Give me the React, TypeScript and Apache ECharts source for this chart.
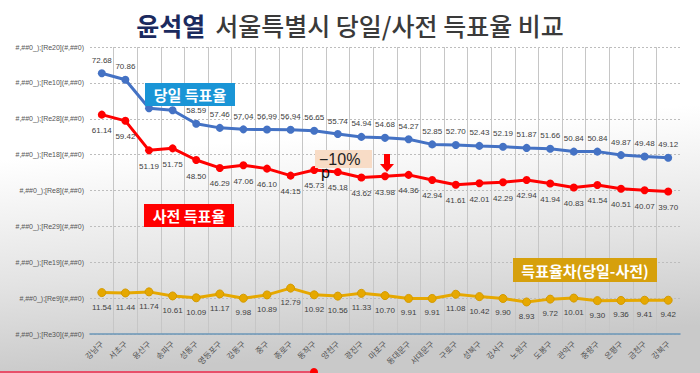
import React, { useEffect, useRef } from "react";
import * as echarts from "echarts";

const districts = [
  "강남구", "서초구", "용산구", "송파구", "성동구", "영등포구", "강동구", "중구", "종로구", "동작구",
  "양천구", "광진구", "마포구", "동대문구", "서대문구", "구로구", "성북구", "강서구", "노원구", "도봉구",
  "관악구", "중랑구", "은평구", "금천구", "강북구",
];
const electionDay = [
  72.68, 70.86, 62.93, 62.36, 58.59, 57.46, 57.04, 56.99, 56.94, 56.65,
  55.74, 54.94, 54.68, 54.27, 52.85, 52.70, 52.43, 52.19, 51.87, 51.66,
  50.84, 50.84, 49.87, 49.48, 49.12,
];
const earlyVoting = [
  61.14, 59.42, 51.19, 51.75, 48.50, 46.29, 47.06, 46.10, 44.15, 45.73,
  45.18, 43.62, 43.98, 44.36, 42.94, 41.61, 42.01, 42.29, 42.94, 41.94,
  40.83, 41.54, 40.51, 40.07, 39.70,
];
const gap = [
  11.54, 11.44, 11.74, 10.61, 10.09, 11.17, 9.98, 10.89, 12.79, 10.92,
  10.56, 11.33, 10.70, 9.91, 9.91, 11.08, 10.42, 9.90, 8.93, 9.72,
  10.01, 9.30, 9.36, 9.41, 9.42,
];
// labels hidden behind the "당일 득표율" box in the source
const hiddenDayLabels = ["용산구", "송파구"];
// tick labels from 0 to 80 (step 10), as shown in the source
const yTickLabels = [
  "#,##0_);[Re30](#,##0)",
  "#,##0_);[Re9](#,##0)",
  "#,##0_);[Re19](#,##0)",
  "#,##0_);[Re29](#,##0)",
  "#,##0_);[Re8](#,##0)",
  "#,##0_);[Re18](#,##0)",
  "#,##0_);[Re28](#,##0)",
  "#,##0_);[Re10](#,##0)",
  "#,##0_);[Re20](#,##0)",
];

const NUM_FONT = "'Liberation Sans', Arial, 'Noto Sans CJK KR', sans-serif";
const KR_FONT = "'Noto Sans CJK KR', 'Noto Sans', sans-serif";

export default function App() {
  const ref = useRef<HTMLDivElement>(null);

  useEffect(() => {
    if (!ref.current) return;
    const chart = echarts.init(ref.current, undefined, { renderer: "svg" });
    const labelStyle = {
      show: true,
      fontSize: 8,
      color: "#404040",
      fontFamily: NUM_FONT,
      formatter: (p: any) => Number(p.value).toFixed(2),
    };
    const dayData = electionDay.map((v, i) =>
      hiddenDayLabels.includes(districts[i]) ? { value: v, label: { show: false } } : v
    );
    chart.setOption({
      animation: false,
      backgroundColor: new echarts.graphic.LinearGradient(0, 0, 0.15, 1, [
        { offset: 0, color: "#ffffff" },
        { offset: 0.42, color: "#ffffff" },
        { offset: 0.75, color: "#e3e3e3" },
        { offset: 1, color: "#c9c9c9" },
      ]),
      title: {
        text: "{a|윤석열}  {b|서울특별시 당일/사전 득표율 비교}",
        left: "center",
        top: 7,
        textStyle: {
          rich: {
            a: { fontSize: 25, fontWeight: "bold", color: "#1b2a5e", fontFamily: KR_FONT },
            b: { fontSize: 25, fontWeight: 500, color: "#3a3a3a", fontFamily: KR_FONT },
          },
        },
      },
      grid: { left: 90, right: 20, top: 47, bottom: 39 },
      xAxis: {
        type: "category",
        data: districts,
        boundaryGap: true,
        axisLine: { show: true, lineStyle: { color: "#6b96b8", width: 1.5 } },
        axisTick: { show: false },
        axisLabel: {
          rotate: 45,
          fontSize: 8,
          color: "#555555",
          fontFamily: KR_FONT,
          interval: 0,
          margin: 8,
        },
        splitLine: {
          show: true,
          showMinLine: false,
          showMaxLine: false,
          interval: 0,
          lineStyle: { color: "#c6c6c6", width: 1 },
        },
      },
      yAxis: {
        type: "value",
        min: 0,
        max: 80,
        interval: 10,
        axisLine: { show: false },
        axisTick: { show: false },
        axisLabel: {
          fontSize: 7,
          color: "#555555",
          fontFamily: NUM_FONT,
          margin: 6,
          formatter: (v: number) => yTickLabels[Math.round(v / 10)] ?? "",
        },
        splitLine: { show: true, lineStyle: { color: "#bdbdbd", type: [2, 2], width: 1 } },
      },
      series: [
        {
          name: "당일 득표율",
          type: "line",
          data: dayData,
          symbol: "circle",
          symbolSize: 8,
          itemStyle: { color: "#4472c4" },
          lineStyle: { color: "#4472c4", width: 3 },
          label: { ...labelStyle, position: "top", distance: 5 },
          z: 3,
        },
        {
          name: "사전 득표율",
          type: "line",
          data: earlyVoting,
          symbol: "circle",
          symbolSize: 8,
          itemStyle: { color: "#ff0000" },
          lineStyle: { color: "#ff0000", width: 3 },
          label: { ...labelStyle, position: "bottom", distance: 8 },
          z: 3,
        },
        {
          name: "득표율차(당일-사전)",
          type: "line",
          data: gap,
          symbol: "circle",
          symbolSize: 8,
          itemStyle: { color: "#e6a800", borderColor: "#d49a00", borderWidth: 1 },
          lineStyle: { color: "#e6a800", width: 3 },
          label: { ...labelStyle, position: "bottom", distance: 6 },
          z: 3,
        },
      ],
      graphic: [
        // legend-like boxes
        { type: "rect", z: 100, shape: { x: 145, y: 83, width: 90, height: 23 }, style: { fill: "#1a95d6" } },
        {
          type: "text", z: 101, x: 190, y: 94.5,
          style: { text: "당일 득표율", fill: "#ffffff", fontSize: 15, fontWeight: "bold", fontFamily: KR_FONT, align: "center", verticalAlign: "middle" },
        },
        { type: "rect", z: 100, shape: { x: 144, y: 204, width: 90, height: 23 }, style: { fill: "#ff0000" } },
        {
          type: "text", z: 101, x: 189, y: 215.5,
          style: { text: "사전 득표율", fill: "#ffffff", fontSize: 15, fontWeight: "bold", fontFamily: KR_FONT, align: "center", verticalAlign: "middle" },
        },
        { type: "rect", z: 100, shape: { x: 513, y: 258, width: 144, height: 24 }, style: { fill: "#d6a00c" } },
        {
          type: "text", z: 101, x: 585, y: 270,
          style: { text: "득표율차(당일-사전)", fill: "#ffffff", fontSize: 15, fontWeight: "bold", fontFamily: KR_FONT, align: "center", verticalAlign: "middle" },
        },
        // -10%p annotation
        { type: "rect", z: 100, shape: { x: 315, y: 150, width: 57, height: 18 }, style: { fill: "#f8dcc6" } },
        {
          type: "text", z: 101, x: 319, y: 159.5,
          style: { text: "−10%", fill: "#222222", fontSize: 16, fontFamily: NUM_FONT, align: "left", verticalAlign: "middle" },
        },
        {
          type: "text", z: 101, x: 321, y: 172,
          style: { text: "p", fill: "#111111", fontSize: 16, fontFamily: NUM_FONT, align: "left", verticalAlign: "middle" },
        },
        // red down arrow
        {
          type: "polygon", z: 100,
          shape: { points: [[384, 154], [390, 154], [390, 164], [394, 164], [387, 172], [380, 164], [384, 164]] },
          style: { fill: "#ff0000" },
        },
        // video progress bar
        { type: "rect", z: 100, shape: { x: 0, y: 371, width: 314, height: 2 }, style: { fill: "#e8506a" } },
        { type: "circle", z: 101, shape: { cx: 314, cy: 372, r: 4 }, style: { fill: "#ff0000" } },
      ],
    });
    return () => chart.dispose();
  }, []);

  return (
    <div
      ref={ref}
      style={{ position: "fixed", left: 0, top: 0, width: 700, height: 373 }}
    />
  );
}
